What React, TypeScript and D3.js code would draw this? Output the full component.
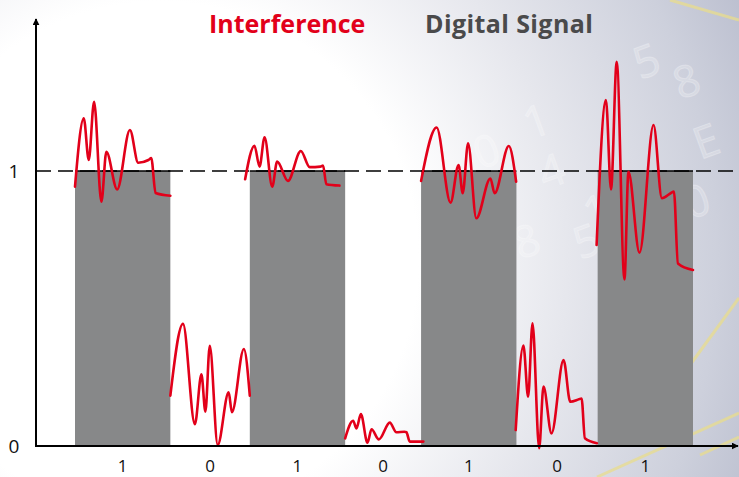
import React from 'react';
import * as d3 from 'd3';

// bit stream shown on the x axis
const bits = [1, 0, 1, 0, 1, 0, 1];
// relative duration of each bit slot (high periods are a little longer)
const bitDurations = [1.08, 0.9, 1.08, 0.86, 1.08, 0.92, 1.08];
const yTicks = [0, 1];
const titles = ['Interference', 'Digital Signal'];

// interference curve per bit: [fraction of slot, level]
const noise: [number, number][][] = [
  [[0, 0.943], [0.092, 1.192], [0.144, 1.04], [0.2, 1.252], [0.277, 0.888], [0.329, 1.07], [0.442, 0.933],
    [0.576, 1.149], [0.663, 1.03], [0.77, 1.04], [0.8, 1.047], [0.845, 0.92], [1.0, 0.91]],
  [[0, 0.183], [0.159, 0.444], [0.309, 0.079], [0.391, 0.261], [0.441, 0.125], [0.496, 0.364], [0.596, 0.004],
    [0.734, 0.195], [0.775, 0.123], [0.925, 0.353], [1.0, 0.183]],
  [[-0.049, 0.97], [0.049, 1.092], [0.102, 1.016], [0.155, 1.123], [0.235, 0.943], [0.287, 1.034], [0.4, 0.964],
    [0.535, 1.073], [0.628, 1.014], [0.74, 1.016], [0.768, 1.02], [0.803, 0.952], [0.94, 0.947]],
  [[0, 0.028], [0.105, 0.092], [0.149, 0.064], [0.207, 0.116], [0.294, 0.012], [0.347, 0.061], [0.444, 0.024],
    [0.588, 0.085], [0.675, 0.05], [0.78, 0.052], [0.807, 0.05], [0.851, 0.016], [1.03, 0.016]],
  [[0, 0.964], [0.163, 1.158], [0.309, 0.885], [0.393, 1.022], [0.437, 0.919], [0.493, 1.101], [0.579, 0.828],
    [0.727, 0.973], [0.771, 0.919], [0.92, 1.091], [0.997, 0.961]],
  [[-0.009, 0.058], [0.086, 0.365], [0.144, 0.179], [0.198, 0.446], [0.28, -0.008], [0.333, 0.216], [0.432, 0.046],
    [0.58, 0.313], [0.663, 0.161], [0.77, 0.17], [0.802, 0.173], [0.843, 0.028], [0.991, 0.01]],
  [[-0.011, 0.731], [0.087, 1.258], [0.14, 0.933], [0.2, 1.397], [0.281, 0.606], [0.323, 0.997], [0.439, 0.703],
    [0.586, 1.167], [0.674, 0.901], [0.77, 0.92], [0.8, 0.925], [0.842, 0.664], [1.0, 0.64]],
];

// faint decorative digits in the backdrop
const bgDigits = ['1', '5', '8', '0', '4', '1', '5', 'E', '8', '0', '0'];
const bgDigitPos = [[530, 140], [640, 80], [680, 100], [480, 170], [545, 190], [590, 230], [580, 260],
  [700, 160], [520, 260], [640, 330], [690, 220]];

const W = 739;
const H = 477;
const axisX = 36;

export default function App() {
  const starts = [0, ...d3.cumsum(bitDurations)];
  const total = starts[starts.length - 1];
  const x = d3.scaleLinear().domain([0, total]).range([75, 693]);
  const y = d3.scaleLinear().domain([0, 1]).range([446, 171]);

  const font = '"Open Sans", "DejaVu Sans", sans-serif';

  return (
    <svg width={W} height={H} style={{ position: 'absolute', left: 0, top: 0, display: 'block' }}>
      <defs>
        <radialGradient id="bg" cx="160" cy="260" r="680" gradientUnits="userSpaceOnUse">
          <stop offset="0" stopColor="#ffffff" />
          <stop offset="0.38" stopColor="#ffffff" />
          <stop offset="0.6" stopColor="#e6e7ed" />
          <stop offset="0.82" stopColor="#cdd0dc" />
          <stop offset="1" stopColor="#b3b7c9" />
        </radialGradient>
        <marker id="arrow" viewBox="0 0 10 10" refX="9" refY="5" markerWidth="7" markerHeight="7" orient="auto"
          markerUnits="userSpaceOnUse">
          <path d="M0,0 L10,5 L0,10 z" fill="#000" />
        </marker>
      </defs>
      <rect width={W} height={H} fill="url(#bg)" />

      {/* faint background decorations */}
      <g fontFamily={font} fontSize={44}>
        {bgDigits.map((t, i) => (
          <text key={i} fill="#ffffff" fillOpacity={0.22} stroke="#ffffff" strokeOpacity={0.25}
            x={bgDigitPos[i][0]} y={bgDigitPos[i][1]}
            transform={`rotate(-20 ${bgDigitPos[i][0]} ${bgDigitPos[i][1]})`}>
            {t}
          </text>
        ))}
      </g>
      <g stroke="#e8dc8c" strokeOpacity={0.75} strokeWidth={3} fill="none">
        <line x1={670} y1={0} x2={739} y2={20} />
        <line x1={690} y1={365} x2={739} y2={298} />
        <line x1={597} y1={477} x2={739} y2={413} />
        <line x1={700} y1={455} x2={739} y2={437} />
      </g>

      {/* digital signal bars */}
      {bits.map((b, i) => b === 1 && (
        <g key={i}>
          <rect x={x(starts[i])} y={y(1)} width={x(starts[i + 1]) - x(starts[i])} height={y(0) - y(1)} fill="#878889" />
          <line x1={x(starts[i])} x2={x(starts[i + 1])} y1={y(1)} y2={y(1)} stroke="#000" strokeWidth={1.3} />
        </g>
      ))}

      {/* dashed level line */}
      <line x1={axisX} x2={W} y1={y(1)} y2={y(1)} stroke="#000" strokeWidth={1.3} strokeDasharray="15 7" />

      {/* interference */}
      {noise.map((pts, i) => {
        const line = d3.line<[number, number]>()
          .x(d => x(starts[i] + d[0] * bitDurations[i]))
          .y(d => y(d[1]))
          .curve(d3.curveMonotoneX);
        return <path key={i} d={line(pts) || ''} fill="none" stroke="#e2001a" strokeWidth={2.6}
          strokeLinejoin="round" strokeLinecap="round" />;
      })}

      {/* axes */}
      <line x1={axisX} x2={axisX} y1={y(0) + 1} y2={19} stroke="#000" strokeWidth={2} markerEnd="url(#arrow)" />
      <line x1={axisX - 1} x2={W - 1} y1={y(0)} y2={y(0)} stroke="#000" strokeWidth={2} markerEnd="url(#arrow)" />

      {yTicks.map(t => (
        <text key={t} x={14} y={y(t)} dy="0.36em" textAnchor="middle" fontFamily={font} fontSize={19} fill="#111">
          {t}
        </text>
      ))}
      {bits.map((b, i) => (
        <text key={i} x={x((starts[i] + starts[i + 1]) / 2)} y={472} textAnchor="middle" fontFamily={font}
          fontSize={17} fill="#111">
          {b}
        </text>
      ))}

      <text x={209} y={33} fontFamily={font} fontWeight="bold" fontSize={25} fill="#e2001a">{titles[0]}</text>
      <text x={425} y={33} fontFamily={font} fontWeight="bold" fontSize={25} letterSpacing={0.4}
        fill="#4a4a4b">{titles[1]}</text>
    </svg>
  );
}
